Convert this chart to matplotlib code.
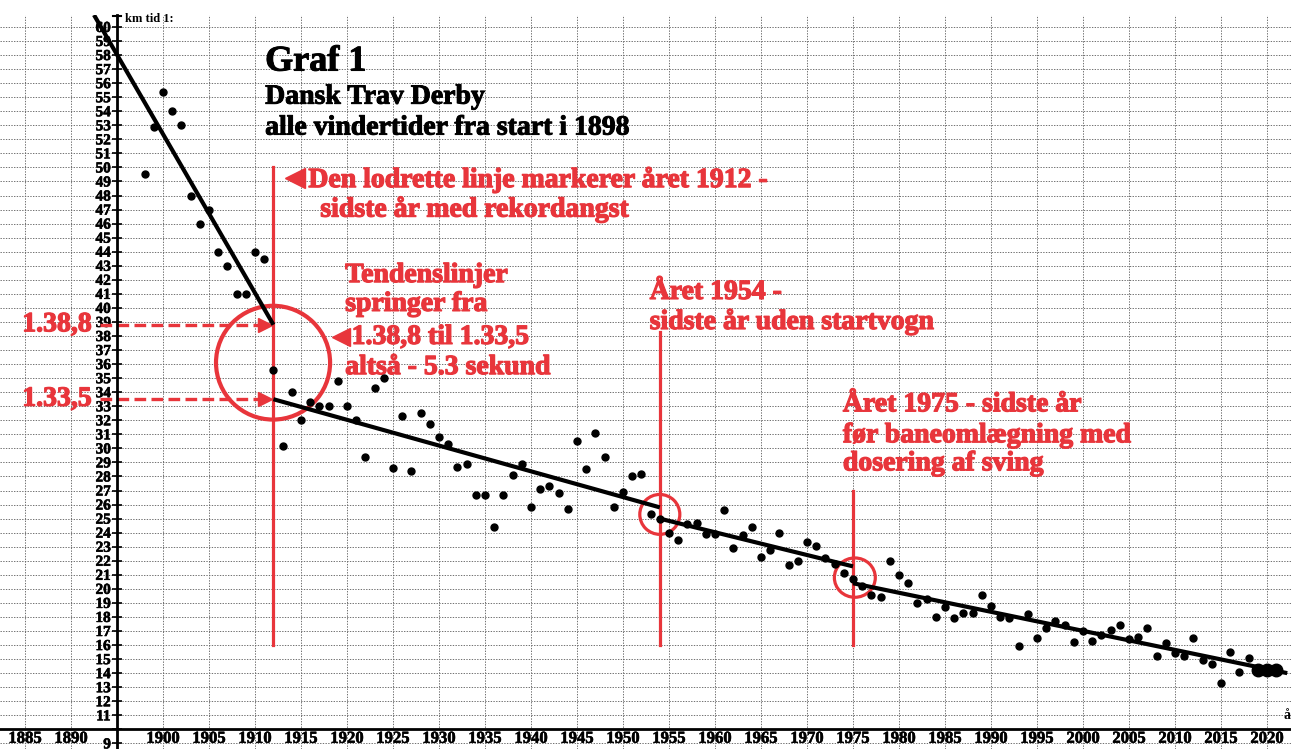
import matplotlib
matplotlib.use('Agg')
import matplotlib.pyplot as plt
import matplotlib.patheffects as pe
import numpy as np
from matplotlib.patches import Ellipse

RED = '#e8353b'
plt.rcParams['font.family'] = ['Liberation Serif', 'DejaVu Serif']
plt.rcParams['font.weight'] = 'bold'

# Dansk Trav Derby, winning km time 1:xx,x (seconds part), 1898-2021
years = np.arange(1898, 2022)
times = [49.5, 52.9, 55.4, 54.0, 53.0, 48.0, 46.0, 47.0, 44.0, 43.0, 41.0, 41.0, 44.0, 43.5,
         35.6, 30.2, 34.0, 32.0, 33.3, 33.0, 33.0, 34.8, 33.0, 32.0,
         29.4, 34.3, 35.0, 28.6, 32.3, 28.4, 32.5, 31.7, 30.8, 30.3,
         28.7, 28.9, 26.7, 26.7, 24.4, 26.7, 28.1, 28.9, 25.8, 27.1,
         27.3, 26.8, 25.7, 30.5, 28.5, 31.1, 29.4, 25.8, 26.9, 28.0,
         28.2, 25.3, 25.0, 24.0, 23.5, 24.65, 24.7, 23.9, 23.9, 25.6,
         22.9, 23.8, 24.4, 22.25, 22.8, 24.0, 21.7, 22.0, 23.3, 23.05,
         22.2, 21.8, 21.1, 20.7, 20.2, 19.55, 19.4, 22.0, 21.0, 20.4,
         19.0, 19.3, 18.0, 18.7, 17.9, 18.3, 18.3, 19.55, 18.75, 18.0,
         17.9, 15.9, 18.2, 16.5, 17.2, 17.7, 17.4, 16.2, 17.0, 16.3,
         16.7, 17.1, 17.4, 16.4, 16.6, 17.2, 15.25, 16.15, 15.45, 15.25,
         16.5, 14.9, 14.65, 13.3, 15.5, 14.1, 15.05, 14.25, 14.2, 14.25]

# trend line pieces (start/end year, start/end value)
trend_x = [[1892.5, 1912], [1912, 1954], [1954, 1975], [1975, 2022.2]]
trend_y = [[60.85, 38.8], [33.5, 25.8], [25.0, 21.6], [20.4, 14.0]]

# red marker lines
mark_years = [1912, 1954, 1975]
mark_top = [50.0, 38.3, 27.0]
mark_bottom = 16.0

jump_from = 38.8
jump_to = 33.5

x_ticks = list(range(1885, 2021, 5))
y_ticks = list(range(9, 61))

BOLD = dict(fontweight='bold')
HEAVY_RED = [pe.withStroke(linewidth=0.9, foreground=RED)]
HEAVY_BLK = [pe.withStroke(linewidth=0.7, foreground='black')]


def red_text(ax, x, y, s):
    ax.text(x, y, s, color=RED, fontsize=20, va='center', path_effects=HEAVY_RED, **BOLD)


def graph():
    fig = plt.figure(figsize=(12.91, 7.49), dpi=100)
    ax = fig.add_axes([0, 0, 1, 734 / 749])
    ax.set_xlim(1882.28, 2022.61)
    ax.set_ylim(8.6, 60.85)

    # axes in the GeoGebra look
    for s in ['top', 'right']:
        ax.spines[s].set_visible(False)
    ax.spines['left'].set_position(('data', 1895))
    ax.spines['bottom'].set_position(('data', 10))
    ax.spines['left'].set_linewidth(2)
    ax.spines['bottom'].set_linewidth(2)

    ax.set_xticks(x_ticks)
    ax.set_xticklabels(['' if x == 1895 else str(x) for x in x_ticks], **BOLD)
    ax.set_yticks(y_ticks)
    ax.set_yticklabels(['' if y == 10 else str(y) for y in y_ticks], **BOLD)
    ax.tick_params(axis='x', length=0, pad=1, labelsize=12)
    ax.tick_params(axis='y', direction='inout', length=7, width=1.2, pad=1, labelsize=11)
    for lab in ax.get_xticklabels() + ax.get_yticklabels():
        lab.set_path_effects([pe.withStroke(linewidth=0.4, foreground='black')])
    ax.grid(True, color='0.4', linestyle=(0, (1.5, 1.5)), linewidth=0.65)
    ax.set_axisbelow(True)

    ax.plot([1894.6, 1895.4], [60.8, 60.8], color='black', lw=1.5, clip_on=False)
    ax.text(1895.9, 60.55, 'km tid 1:', fontsize=9, va='center', clip_on=False, **BOLD)
    ax.text(2022.2, 11.0, 'å', fontsize=10, va='center', ha='center', **BOLD)

    # red markers
    for yr, top in zip(mark_years, mark_top):
        ax.plot([yr, yr], [mark_bottom, top], color=RED, lw=2.3, zorder=2)
    ax.add_patch(Ellipse((1911.96, 36.1), 12.4, 8.1, fill=False, ec=RED, lw=3, zorder=2))
    ax.add_patch(Ellipse((1954.0, 25.3), 4.35, 2.84, fill=False, ec=RED, lw=2.3, zorder=2))
    ax.add_patch(Ellipse((1975.2, 20.8), 4.45, 2.8, fill=False, ec=RED, lw=2.3, zorder=2))

    for val in [jump_from, jump_to]:
        ax.plot([1893.2, 1910.8], [val, val], color=RED, lw=2.4,
                linestyle=(0, (3.5, 1.6)), zorder=2)
        ax.plot(1911.1, val, marker='>', ms=10, color=RED, zorder=2)
    red_text(ax, 1884.7, jump_from, '1.38,8')
    red_text(ax, 1884.7, jump_to, '1.33,5')

    # trend lines and points
    for tx, ty in zip(trend_x, trend_y):
        ax.plot(tx, ty, color='black', lw=3, zorder=3, solid_capstyle='butt')
    ax.plot(years, times, 'o', color='black', ms=5, zorder=4)
    ax.plot(years[-3:], times[-3:], 'o', color='black', ms=9, zorder=4)

    # titles
    ax.text(1911.1, 57.5, 'Graf 1', fontsize=26, va='center', path_effects=HEAVY_BLK, **BOLD)
    ax.text(1911.1, 55.0, 'Dansk Trav Derby', fontsize=20, va='center',
            path_effects=HEAVY_BLK, **BOLD)
    ax.text(1911.1, 52.8, 'alle vindertider fra start i 1898', fontsize=20, va='center',
            path_effects=HEAVY_BLK, **BOLD)

    # red notes
    ax.plot(1914.35, 49.27, marker='<', ms=15, color=RED)
    red_text(ax, 1915.8, 49.1, 'Den lodrette linje markerer året 1912 -')
    red_text(ax, 1917.1, 47.0, 'sidste år med rekordangst')
    red_text(ax, 1919.8, 42.3, 'Tendenslinjer')
    red_text(ax, 1919.8, 40.25, 'springer fra')
    ax.plot(1919.35, 37.9, marker='<', ms=13, color=RED)
    red_text(ax, 1920.5, 37.9, '1.38,8 til 1.33,5')
    red_text(ax, 1919.8, 35.75, 'altså - 5.3 sekund')
    red_text(ax, 1952.9, 41.1, 'Året 1954 -')
    red_text(ax, 1952.9, 39.0, 'sidste år uden startvogn')
    red_text(ax, 1973.9, 33.1, 'Året 1975 - sidste år')
    red_text(ax, 1973.9, 30.9, 'før baneomlægning med')
    red_text(ax, 1973.9, 28.9, 'dosering af sving')

    fig.savefig('out.png', dpi=100)


if __name__ == '__main__':
    graph()
